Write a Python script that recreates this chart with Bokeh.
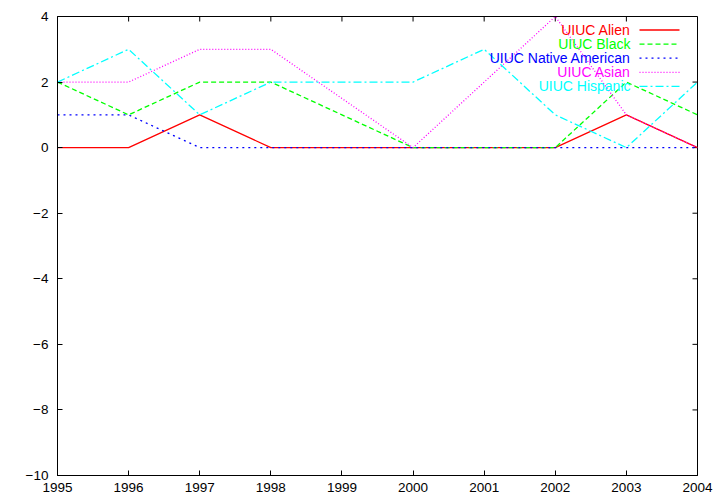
from bokeh.plotting import figure
from bokeh.models import FixedTicker, Range1d, ColumnDataSource
from bokeh.core.properties import value
from bokeh.embed import file_html
from bokeh.resources import INLINE

years = [1995, 1996, 1997, 1998, 1999, 2000, 2001, 2002, 2003, 2004]
alien = [0, 0, 1, 0, 0, 0, 0, 0, 1, 0]
black = [2, 1, 2, 2, 1, 0, 0, 0, 2, 1]
native_american = [1, 1, 0, 0, 0, 0, 0, 0, 0, 0]
asian = [2, 2, 3, 3, 1.5, 0, 2, 4, 1, 0]
hispanic = [2, 3, 1, 2, 2, 2, 3, 1, 0, 2]

series_names = ["UIUC Alien", "UIUC Black", "UIUC Native American", "UIUC Asian", "UIUC Hispanic"]
series_values = [alien, black, native_american, asian, hispanic]
y_ticks = [-10, -8, -6, -4, -2, 0, 2, 4]

colors = ["#ff0000", "#00ff00", "#0000ff", "#ff00ff", "#00ffff"]
dashes = ["solid", "5 3", "2 4", "1 2", "8 3 2 3"]

FONT = "Liberation Sans"
X0, X1 = 1995, 2004
Y0, Y1 = -10, 4

W, H = 720, 504
LEFT, RIGHT, TOP, BOTTOM = 57, 23, 16, 29
TICK = 5

p = figure(width=W, height=H, output_backend="svg", toolbar_location=None,
           x_range=Range1d(X0, X1), y_range=Range1d(Y0, Y1),
           min_border_left=LEFT, min_border_right=RIGHT,
           min_border_top=TOP, min_border_bottom=BOTTOM)
p.background_fill_color = "white"
p.border_fill_color = "white"
p.outline_line_color = "black"
p.outline_line_width = 1
p.xgrid.visible = False
p.ygrid.visible = False

for ax in p.xaxis:
    ax.ticker = FixedTicker(ticks=years)
    ax.major_tick_in = TICK
    ax.major_tick_out = 0
    ax.minor_tick_in = 0
    ax.minor_tick_out = 0
    ax.major_label_standoff = 7
    ax.major_label_text_font = FONT
    ax.major_label_text_font_size = "13.5px"
    ax.major_label_text_color = "black"
    ax.axis_line_color = "black"
for ax in p.yaxis:
    ax.ticker = FixedTicker(ticks=y_ticks)
    ax.major_tick_in = TICK
    ax.major_tick_out = 0
    ax.minor_tick_in = 0
    ax.minor_tick_out = 0
    ax.major_label_standoff = 9
    ax.major_label_text_font = FONT
    ax.major_label_text_font_size = "13.5px"
    ax.major_label_text_color = "black"
    ax.axis_line_color = "black"

frame_w = W - LEFT - RIGHT
frame_h = H - TOP - BOTTOM
dx_per_px = (X1 - X0) / frame_w
dy_per_px = (Y1 - Y0) / frame_h


def px_to_x(px):
    return X0 + (px - LEFT) * dx_per_px


def px_to_y(py):
    return Y1 - (py - TOP) * dy_per_px


# mirrored ticks on top and right edges (gnuplot style)
p.segment(x0=years, y0=[Y1] * len(years), x1=years, y1=[Y1 - TICK * dy_per_px] * len(years),
          line_color="black", line_width=1)
p.segment(x0=[X1] * len(y_ticks), y0=y_ticks, x1=[X1 - TICK * dx_per_px] * len(y_ticks), y1=y_ticks,
          line_color="black", line_width=1)

for i, vals in enumerate(series_values):
    src = ColumnDataSource(dict(x=years, y=vals))
    p.line("x", "y", source=src, line_color=colors[i], line_width=1.3, line_dash=dashes[i])

# legend (gnuplot style: right-aligned text, sample line to the right)
row0, row_step = 29.5, 14.1
text_right = 630
sample_l, sample_r = 639, 679

for i, name in enumerate(series_names):
    ry = px_to_y(row0 + i * row_step)
    p.text(x=[px_to_x(text_right)], y=[ry], text=[name], text_align="right",
           text_baseline="middle", text_color=colors[i], text_font=value(FONT),
           text_font_size="14px")
    p.line(x=[px_to_x(sample_l), px_to_x(sample_r)], y=[ry, ry], line_color=colors[i],
           line_width=1.3, line_dash=dashes[i])

open("out.html", "w").write(file_html(p, INLINE))
